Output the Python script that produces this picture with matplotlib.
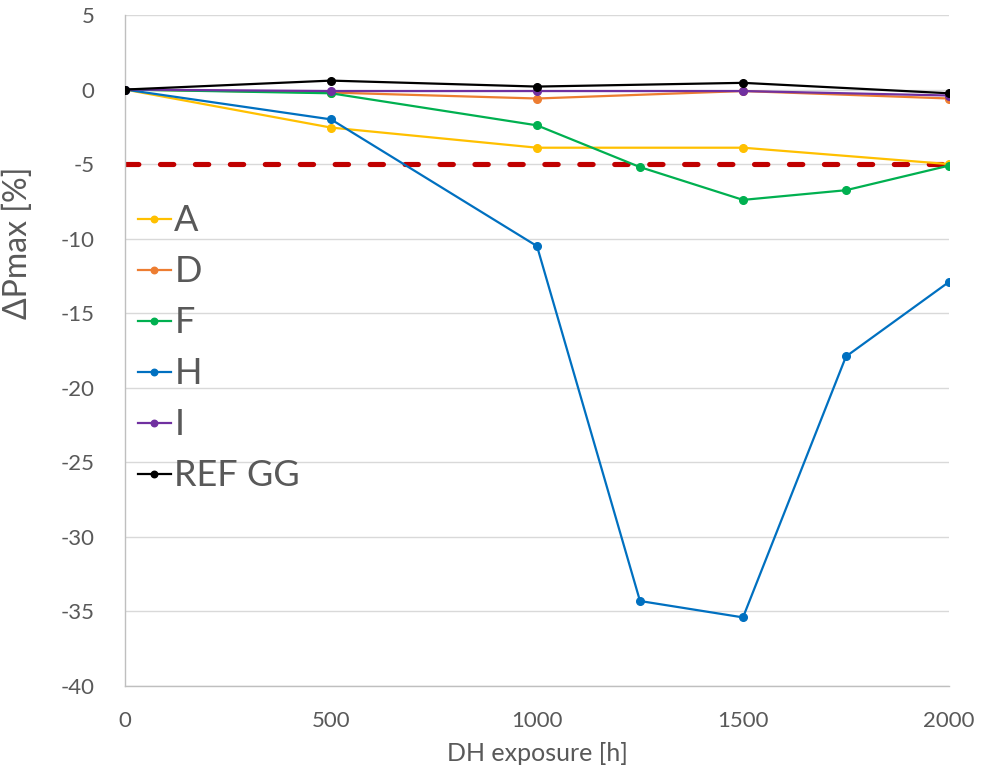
import matplotlib
matplotlib.use("Agg")
import matplotlib.pyplot as plt

plt.rcParams['font.family'] = ['Lato', 'DejaVu Sans']
plt.rcParams['axes.unicode_minus'] = False

hours = [0, 500, 1000, 1500, 2000]
hours_fine = [0, 500, 1000, 1250, 1500, 1750, 2000]

a_vals = [0, -2.55, -3.9, -3.9, -5.0]
d_vals = [0, -0.2, -0.6, -0.1, -0.6]
f_vals = [0, -0.25, -2.4, -5.2, -7.4, -6.75, -5.1]
h_vals = [0, -2.0, -10.5, -34.3, -35.4, -17.9, -12.9]
i_vals = [0, -0.1, -0.1, -0.1, -0.4]
ref_vals = [0, 0.6, 0.2, 0.45, -0.25]

limit = -5
gray = '#595959'

fig = plt.figure(figsize=(9.83, 7.76), dpi=100)
ax = fig.add_axes([125 / 983, 1 - 686 / 776, 824 / 983, 671 / 776])

# threshold line under the series
ax.plot([0, 2000], [limit, limit], color='#C00000', lw=3.7, ls=(0, (2.6, 4.2)),
        dash_capstyle='round', zorder=2)

style = dict(lw=1.6, marker='o', ms=5.5, zorder=3)
ax.plot(hours, a_vals, color='#FFC000', label='A', **style)
ax.plot(hours, d_vals, color='#ED7D31', label='D', **style)
ax.plot(hours_fine, f_vals, color='#00B050', label='F', **style)
ax.plot(hours_fine, h_vals, color='#0070C0', label='H', **style)
ax.plot(hours, i_vals, color='#7030A0', label='I', **style)
ax.plot(hours, ref_vals, color='black', label='REF GG', **style)

ax.set_xlim(0, 2000)
ax.set_ylim(-40, 5)
ax.set_xticks(range(0, 2001, 500))
ax.set_yticks(range(-40, 6, 5))
ax.yaxis.grid(True, color='#D9D9D9', lw=1)
ax.set_axisbelow(True)
for s in ['top', 'right']:
    ax.spines[s].set_visible(False)
for s in ['left', 'bottom']:
    ax.spines[s].set_color('#BFBFBF')
    ax.spines[s].set_linewidth(1)
ax.tick_params(length=0, labelsize=16, labelcolor=gray)
ax.tick_params(axis='y', pad=22)
ax.tick_params(axis='x', pad=18)

ax.set_xlabel('DH exposure [h]', fontsize=18, color=gray, labelpad=8)
ax.set_ylabel('ΔPmax [%]', fontsize=23, color=gray)
ax.yaxis.set_label_coords(-0.112, 0.66)

leg = ax.legend(loc='upper left', bbox_to_anchor=(0.016, 0.718), frameon=False,
                fontsize=26, handlelength=0.9, handletextpad=0.1,
                labelspacing=0.5, borderpad=0, borderaxespad=0, markerscale=0.85)
for t in leg.get_texts():
    t.set_color(gray)

fig.savefig('out.png', dpi=100)
